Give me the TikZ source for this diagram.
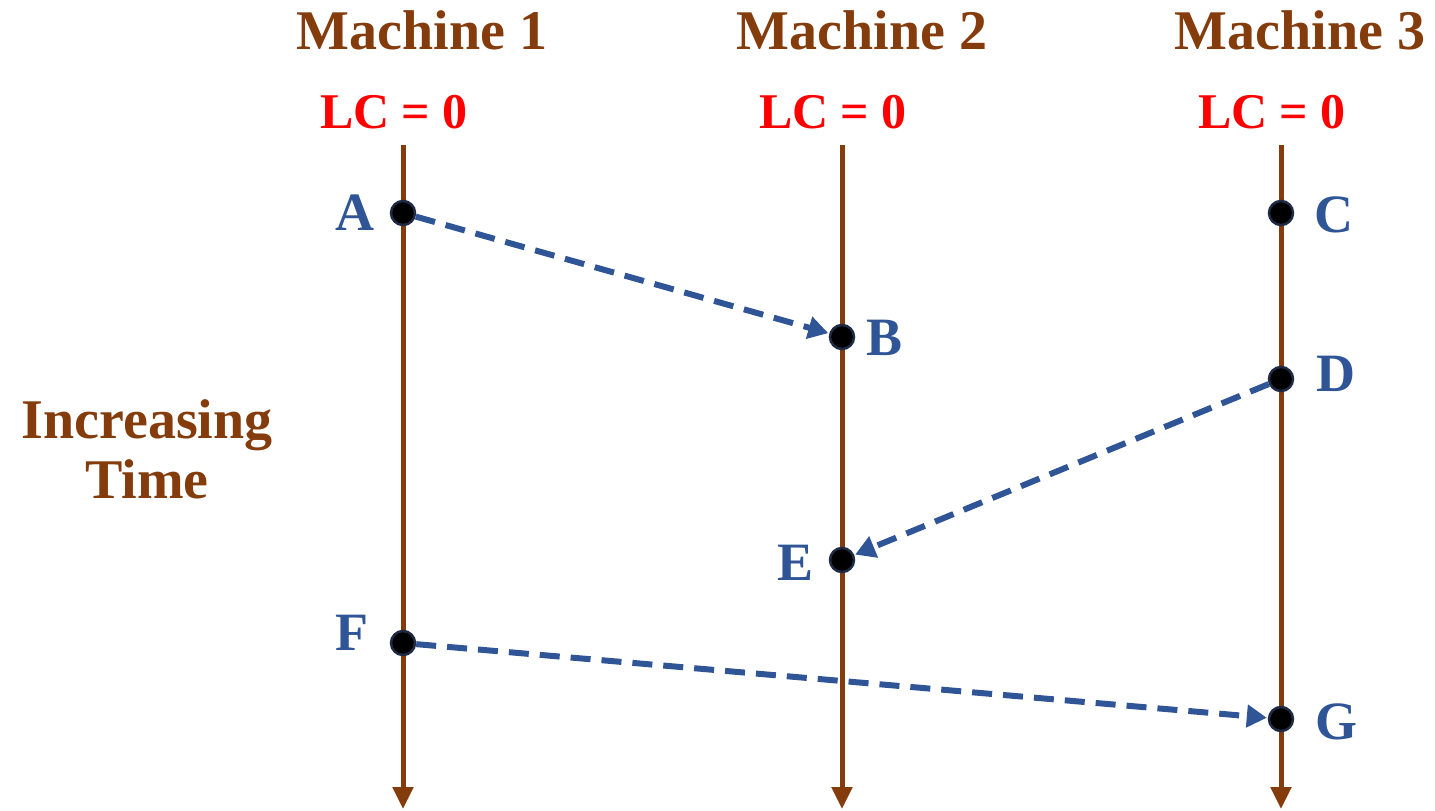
\documentclass[tikz,border=0pt]{standalone}
\usepackage{fontspec}
\setmainfont{Liberation Serif}
\usetikzlibrary{arrows.meta}
\definecolor{brn}{HTML}{843C0C}
\definecolor{blu}{HTML}{2F5597}
\definecolor{rim}{HTML}{1F2A44}
\tikzset{
  head/.style={text=brn, font=\bfseries\fontsize{56}{60}\selectfont, inner sep=0pt},
  lc/.style={text=red, font=\bfseries\fontsize{50}{54}\selectfont, inner sep=0pt},
  evlabel/.style={text=blu, font=\bfseries\fontsize{54}{58}\selectfont, inner sep=0pt},
  timeline/.style={draw=brn, line width=5pt, -{Triangle[length=22pt,width=20pt]}},
  dot/.style={circle, fill=black, draw=rim, line width=2.5pt, minimum size=24pt, inner sep=0pt},
  msg/.style={draw=blu, line width=6pt, dash pattern=on 20pt off 11pt, -{Triangle[length=20pt,width=22pt]}, shorten >=1pt}
}
\begin{document}
\begin{tikzpicture}[x=1pt,y=-1pt]
\useasboundingbox (0,0) rectangle (1435,811);
% headings
\node[head] (h1) at (422,30) {Machine 1};
\node[head] (h2) at (862,30) {Machine 2};
\node[head] (h3) at (1300,30) {Machine 3};
\node[lc] (l1) at (394,112) {LC = 0};
\node[lc] (l2) at (833,112) {LC = 0};
\node[lc] (l3) at (1272,112) {LC = 0};
\node[head, align=center] (inc) at (147,449) {Increasing\\Time};
% timelines
\coordinate (t1) at (403,145); \coordinate (b1) at (403,809);
\coordinate (t2) at (842,145); \coordinate (b2) at (842,809);
\coordinate (t3) at (1281,145); \coordinate (b3) at (1281,809);
\draw[timeline] (t1) -- (b1);
\draw[timeline] (t2) -- (b2);
\draw[timeline] (t3) -- (b3);
% events
\node[dot] (A) at (403,213) {};
\node[dot] (B) at (842,337) {};
\node[dot] (C) at (1281,213) {};
\node[dot] (D) at (1281,379) {};
\node[dot] (E) at (842,560) {};
\node[dot] (F) at (403,643) {};
\node[dot] (G) at (1281,719) {};
\node[evlabel] (lA) at (355,213) {A};
\node[evlabel] (lB) at (884,338) {B};
\node[evlabel] (lC) at (1334,215) {C};
\node[evlabel] (lD) at (1336,374) {D};
\node[evlabel] (lE) at (795,563) {E};
\node[evlabel] (lF) at (352,633) {F};
\node[evlabel] (lG) at (1336,722) {G};
% messages
\draw[msg] (A) -- (B);
\draw[msg] (D) -- (E);
\draw[msg] (F) -- (G);
\end{tikzpicture}
\end{document}
